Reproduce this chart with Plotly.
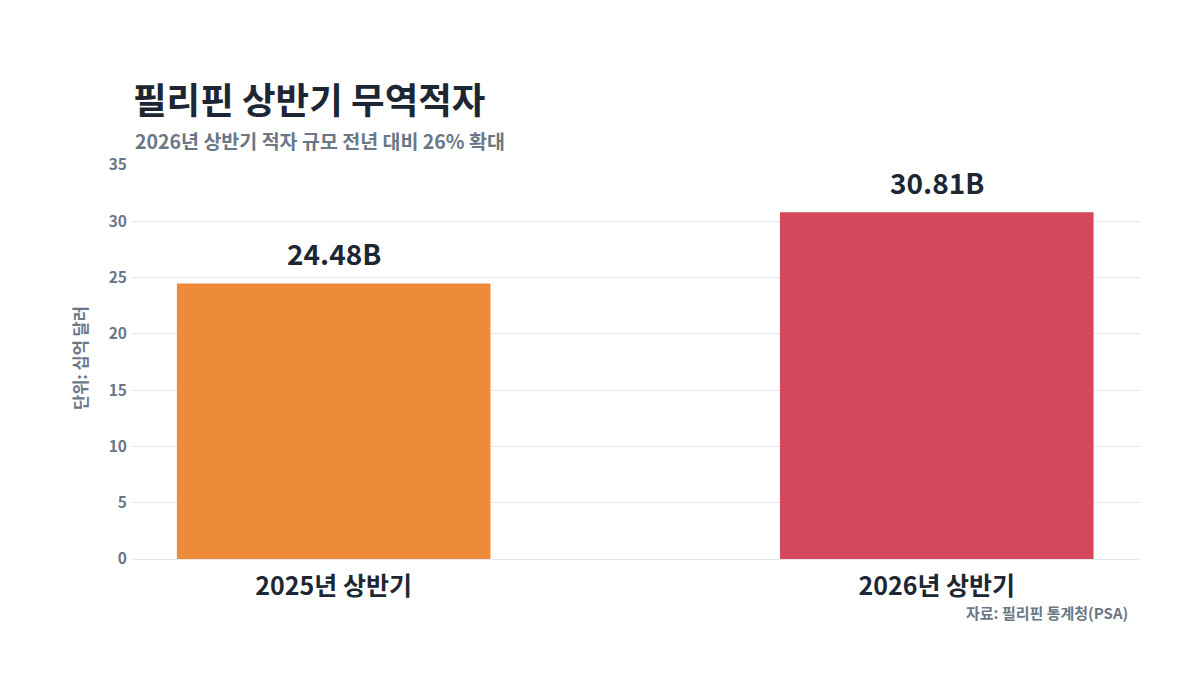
import plotly.graph_objects as go

categories = ["2025년 상반기", "2026년 상반기"]
values = [24.48, 30.81]
labels = ["24.48B", "30.81B"]
colors = ["#ED8B3B", "#D4485C"]
y_ticks = [0, 5, 10, 15, 20, 25, 30, 35]

FONT = "Noto Sans CJK KR"
DARK = "#1d2733"
GRAY = "#6b7786"

fig = go.Figure(
    go.Bar(
        x=categories,
        y=values,
        marker=dict(color=colors, line=dict(width=0)),
        width=0.52,
        hoverinfo="skip",
    )
)

annotations = [
    dict(
        text=lab,
        x=cat, y=val,
        xref="x", yref="y",
        xanchor="center", yanchor="bottom",
        yshift=8,
        showarrow=False,
        font=dict(family=FONT, size=28, color=DARK, weight="bold"),
    )
    for cat, val, lab in zip(categories, values, labels)
]

annotations += [
    dict(
        text="2026년 상반기 적자 규모 전년 대비 26% 확대",
        xref="paper", yref="paper",
        x=(133 - 132) / 1008, y=(559 - 140) / 394,
        xanchor="left", yanchor="middle",
        showarrow=False,
        font=dict(family=FONT, size=19.5, color=GRAY, weight="bold"),
    ),
    dict(
        text="단위: 십억 달러",
        xref="paper", yref="paper",
        x=(80 - 132) / 1008, y=(559 - 358) / 394,
        xanchor="center", yanchor="middle",
        textangle=-90,
        showarrow=False,
        font=dict(family=FONT, size=16.5, color=GRAY, weight="bold"),
    ),
    dict(
        text="자료: 필리핀 통계청(PSA)",
        xref="paper", yref="paper",
        x=(1130 - 132) / 1008, y=(559 - 612) / 394,
        xanchor="right", yanchor="middle",
        showarrow=False,
        font=dict(family=FONT, size=15, color=GRAY, weight="bold"),
    ),
]

fig.update_layout(
    width=1200,
    height=700,
    paper_bgcolor="white",
    plot_bgcolor="white",
    margin=dict(l=132, r=60, t=165, b=141),
    showlegend=False,
    font=dict(family=FONT, color=GRAY),
    title=dict(
        text="<b>필리핀 상반기 무역적자</b>",
        x=133 / 1200,
        xanchor="left",
        y=1 - 101 / 700,
        yanchor="middle",
        yref="container",
        font=dict(family=FONT, size=36.5, color=DARK),
    ),
    xaxis=dict(
        type="category",
        range=[-0.3344, 1.337],
        showgrid=False,
        showline=False,
        zeroline=False,
        ticks="",
        ticklabelstandoff=10,
        tickfont=dict(family=FONT, size=25, color=DARK, weight="bold"),
        fixedrange=True,
    ),
    yaxis=dict(
        range=[0, 35],
        tickvals=y_ticks,
        showgrid=True,
        gridcolor="#e3e8ee",
        gridwidth=1,
        zeroline=True,
        zerolinecolor="#e3e8ee",
        zerolinewidth=1,
        showline=False,
        ticks="",
        ticklabelstandoff=4,
        tickfont=dict(family=FONT, size=15.5, color=GRAY, weight="bold"),
        fixedrange=True,
    ),
    annotations=annotations,
)

fig.write_html("out.html")
